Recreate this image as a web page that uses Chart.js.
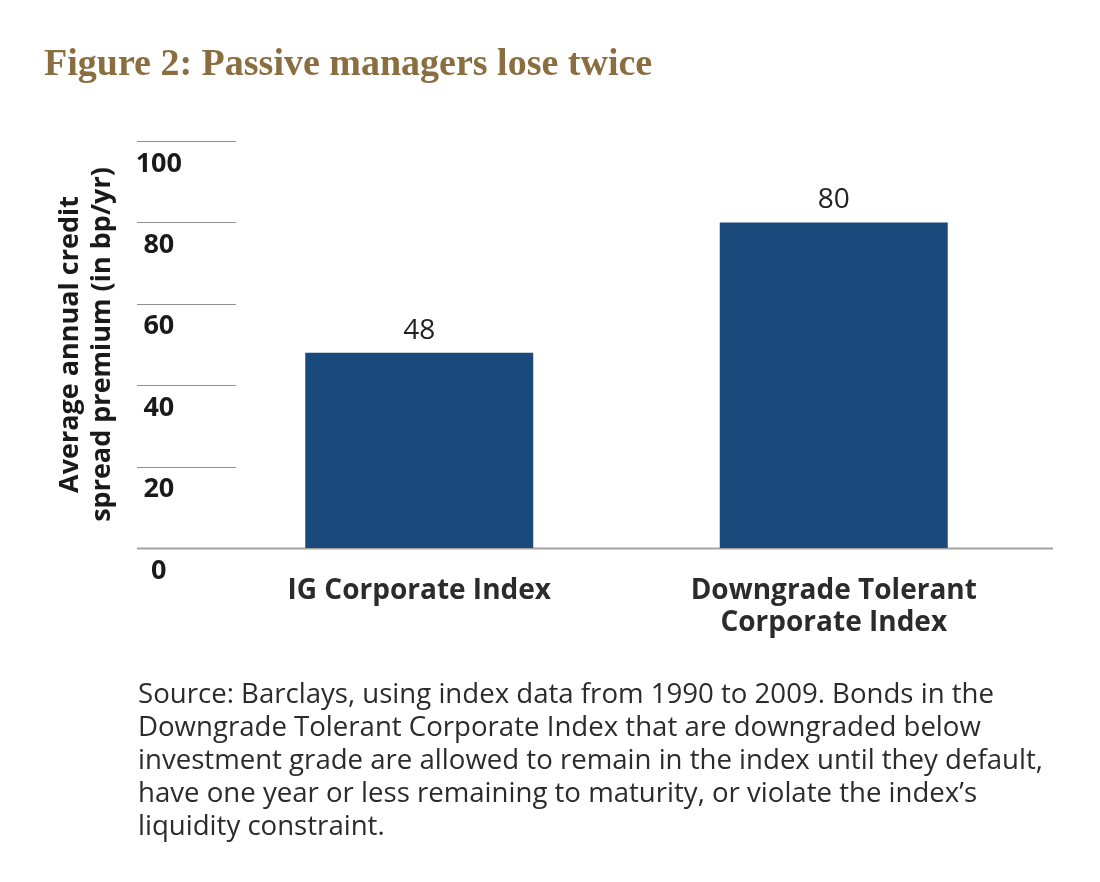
<!DOCTYPE html>
<html>
<head>
<meta charset="utf-8">
<script src="https://cdn.jsdelivr.net/npm/chart.js@4.4.1/dist/chart.umd.min.js"></script>
<style>
  html, body { margin: 0; padding: 0; background: #fff; }
  #wrap { position: relative; width: 1100px; height: 882px; }
  #chart { position: absolute; left: 0; top: 0; }
  #title {
    position: absolute; left: 44px; top: 43px;
    font: bold 38px "Liberation Serif", serif; line-height: 38px; color: #8a6e40;
    white-space: nowrap;
  }
  #source {
    position: absolute; left: 138px; top: 676px;
    font: 27.6px "Open Sans", sans-serif; line-height: 33px; color: #2b2b2b;
    white-space: nowrap;
  }
</style>
</head>
<body>
<div id="wrap">
  <canvas id="chart" width="1100" height="882"></canvas>
  <div id="title">Figure 2: Passive managers lose twice</div>
  <div id="source">Source: Barclays, using index data from 1990 to 2009. Bonds in the<br>Downgrade Tolerant Corporate Index that are downgraded below<br>investment grade are allowed to remain in the index until they default,<br>have one year or less remaining to maturity, or violate the index’s<br>liquidity constraint.</div>
</div>
<script>
const categories = [["IG Corporate Index"], ["Downgrade Tolerant", "Corporate Index"]];
const premium = [48, 80];
const yTitle = ["Average annual credit", "spread premium (in bp/yr)"];
const yMin = 0, yMax = 100, yStep = 20;

const fontFamily = '"Open Sans", sans-serif';

// short tick lines at the left, long baseline at zero
const gridPlugin = {
  id: "shortGrid",
  beforeDatasetsDraw(chart) {
    const { ctx, chartArea, scales } = chart;
    const y = scales.y;
    ctx.save();
    y.ticks.forEach((t) => {
      const py = Math.round(y.getPixelForValue(t.value)) + 0.5;
      ctx.beginPath();
      if (t.value === 0) {
        ctx.strokeStyle = "#a3a3a3";
        ctx.lineWidth = 2;
        ctx.moveTo(chartArea.left - 75, py);
        ctx.lineTo(chartArea.right + 12, py);
      } else {
        ctx.strokeStyle = "#8f8f8f";
        ctx.lineWidth = 1.2;
        ctx.moveTo(chartArea.left - 75, py);
        ctx.lineTo(chartArea.left + 24, py);
      }
      ctx.stroke();
    });
    ctx.restore();
  },
};

const valuePlugin = {
  id: "barValues",
  afterDatasetsDraw(chart) {
    const { ctx } = chart;
    const meta = chart.getDatasetMeta(0);
    ctx.save();
    ctx.font = "28px " + fontFamily;
    ctx.fillStyle = "#222";
    ctx.textAlign = "center";
    ctx.textBaseline = "middle";
    meta.data.forEach((bar, i) => {
      ctx.fillText(String(premium[i]), bar.x, bar.y - 22);
    });
    ctx.restore();
  },
};

new Chart(document.getElementById("chart"), {
  type: "bar",
  data: {
    labels: categories,
    datasets: [{
      data: premium,
      backgroundColor: "#1a4a7b",
      barPercentage: 0.55,
      categoryPercentage: 1,
    }],
  },
  options: {
    responsive: false,
    animation: false,
    events: [],
    layout: { padding: { left: 54, top: 141, right: 59, bottom: 0 } },
    plugins: { legend: { display: false }, tooltip: { enabled: false }, title: { display: false } },
    scales: {
      x: {
        grid: { display: false },
        border: { display: false },
        ticks: {
          color: "#2b2b2b",
          padding: 19,
          font: { family: fontFamily, size: 28, weight: "bold", lineHeight: "32px" },
        },
        afterFit(scale) { scale.height = 334; },
      },
      y: {
        min: yMin,
        max: yMax,
        grid: { display: false },
        border: { display: false },
        title: {
          display: true,
          text: yTitle,
          color: "#1a1a1a",
          padding: 0,
          font: { family: fontFamily, size: 27, weight: "bold", lineHeight: "32px" },
        },
        ticks: {
          stepSize: yStep,
          color: "#1a1a1a",
          crossAlign: "center",
          padding: 22,
          labelOffset: 23,
          font: { family: fontFamily, size: 27, weight: "bold" },
        },
        afterFit(scale) { scale.width = 158; },
      },
    },
  },
  plugins: [gridPlugin, valuePlugin],
});
</script>
</body>
</html>
